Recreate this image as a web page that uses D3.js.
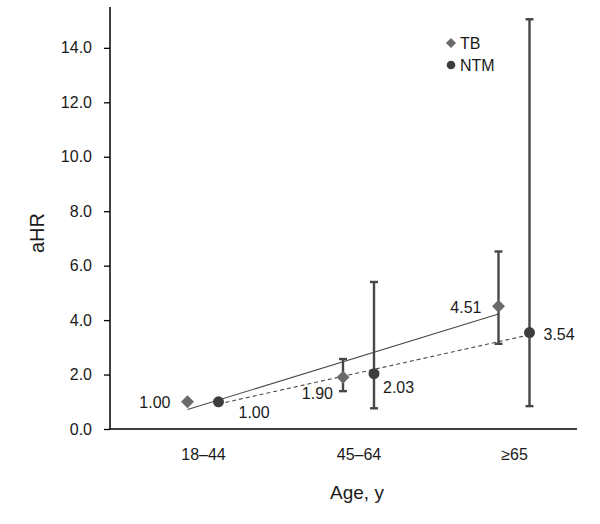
<!DOCTYPE html>
<html>
<head>
<meta charset="utf-8">
<script src="https://cdn.jsdelivr.net/npm/d3@7"></script>
<style>
  html, body { margin: 0; padding: 0; background: #fff; }
  svg { display: block; font-family: "Liberation Sans", Arial, sans-serif; }
</style>
</head>
<body>
<svg id="chart" width="600" height="524"></svg>
<script>
// ---- data ----
const categories = ["18–44", "45–64", "≥65"];
const tbValues   = [1.00, 1.90, 4.51];
const tbLower    = [null, 1.39, 3.13];
const tbUpper    = [null, 2.57, 6.52];
const ntmValues  = [1.00, 2.03, 3.54];
const ntmLower   = [null, 0.76, 0.84];
const ntmUpper   = [null, 5.40, 15.05];
const yTicks     = [0, 2, 4, 6, 8, 10, 12, 14];
const seriesNames = ["TB", "NTM"];

// ---- layout ----
const svg = d3.select("#chart");
const axisLeft = 110, axisRight = 577, axisBottom = 429, axisTop = 7;

const y = d3.scaleLinear().domain([0, 15.5]).range([axisBottom, axisTop]);
const x = d3.scalePoint().domain(categories).range([203, 514]);
const offset = 15.5;

const series = [
  { name: "TB", values: tbValues, lo: tbLower, hi: tbUpper, dx: -offset, shape: "diamond",
    fill: "#6b6b6b", dash: null,
    labels: [{dx: -17, dy: 6, anchor: "end"}, {dx: -10, dy: 22, anchor: "end"}, {dx: -17, dy: 7, anchor: "end"}] },
  { name: "NTM", values: ntmValues, lo: ntmLower, hi: ntmUpper, dx: offset, shape: "circle",
    fill: "#3d3d3d", dash: "4,3",
    labels: [{dx: 20, dy: 16, anchor: "start"}, {dx: 9, dy: 19, anchor: "start"}, {dx: 14, dy: 7, anchor: "start"}] }
];

// ---- y axis ----
const yAxis = d3.axisLeft(y).tickValues(yTicks).tickFormat(d3.format(".1f")).tickSize(6).tickPadding(12);
const yG = svg.append("g").attr("transform", `translate(${axisLeft},0)`).call(yAxis);
yG.select(".domain").remove();
yG.selectAll(".tick line").attr("stroke", "#000").attr("stroke-width", 1.3);
yG.selectAll(".tick text").attr("font-size", 16).attr("fill", "#1a1a1a")
  .attr("font-family", "Liberation Sans, Arial, sans-serif");
svg.append("line").attr("x1", axisLeft).attr("x2", axisLeft).attr("y1", axisTop).attr("y2", axisBottom)
  .attr("stroke", "#000").attr("stroke-width", 1.5);

// ---- x axis ----
svg.append("line").attr("x1", axisLeft).attr("x2", axisRight).attr("y1", axisBottom).attr("y2", axisBottom)
  .attr("stroke", "#000").attr("stroke-width", 1.5);
const xAxis = d3.axisBottom(x).tickSize(0).tickPadding(20);
const xG = svg.append("g").attr("transform", `translate(0,${axisBottom})`).call(xAxis);
xG.select(".domain").remove();
xG.selectAll(".tick text").attr("font-size", 16).attr("fill", "#1a1a1a")
  .attr("font-family", "Liberation Sans, Arial, sans-serif");

// ---- axis titles ----
svg.append("text").attr("transform", `translate(44,233) rotate(-90)`).attr("text-anchor", "middle")
  .attr("font-size", 20).attr("fill", "#1a1a1a").text("aHR");
svg.append("text").attr("x", 357).attr("y", 499).attr("text-anchor", "middle")
  .attr("font-size", 19).attr("fill", "#1a1a1a").text("Age, y");

// ---- trend lines (least squares on category index) ----
function trend(values) {
  const n = values.length;
  const xs = values.map((_, i) => i);
  const mx = d3.mean(xs), my = d3.mean(values);
  const b = d3.sum(xs.map((xi, i) => (xi - mx) * (values[i] - my))) / d3.sum(xs.map(xi => (xi - mx) ** 2));
  const a = my - b * mx;
  return [0, n - 1].map(i => ({ i, v: a + b * i }));
}
series.forEach(s => {
  const pts = trend(s.values);
  svg.append("path")
    .datum(pts)
    .attr("d", d3.line().x(p => x(categories[p.i]) + s.dx).y(p => y(p.v)))
    .attr("fill", "none").attr("stroke", "#4a4a4a").attr("stroke-width", 1.1)
    .attr("stroke-dasharray", s.dash);
});

// ---- error bars ----
series.forEach(s => {
  const g = svg.append("g");
  categories.forEach((c, i) => {
    if (s.lo[i] == null) return;
    const cx = x(c) + s.dx;
    g.append("line").attr("x1", cx).attr("x2", cx).attr("y1", y(s.lo[i])).attr("y2", y(s.hi[i]))
      .attr("stroke", "#474747").attr("stroke-width", 2.4);
    [s.lo[i], s.hi[i]].forEach(v => {
      g.append("line").attr("x1", cx - 4).attr("x2", cx + 4).attr("y1", y(v)).attr("y2", y(v))
        .attr("stroke", "#474747").attr("stroke-width", 2.4);
    });
  });
});

// ---- markers ----
function drawMarker(g, s, cx, cy, scale) {
  if (s.shape === "diamond") {
    const h = 6.5 * scale;
    g.append("path").attr("d", `M${cx},${cy - h}L${cx + h},${cy}L${cx},${cy + h}L${cx - h},${cy}Z`)
      .attr("fill", s.fill);
  } else {
    g.append("circle").attr("cx", cx).attr("cy", cy).attr("r", 5.5 * scale).attr("fill", s.fill);
  }
}
series.forEach(s => {
  const g = svg.append("g");
  s.values.forEach((v, i) => drawMarker(g, s, x(categories[i]) + s.dx, y(v), 1));
});

// ---- data labels ----
series.forEach(s => {
  s.values.forEach((v, i) => {
    const L = s.labels[i];
    svg.append("text").attr("x", x(categories[i]) + s.dx + L.dx).attr("y", y(v) + L.dy)
      .attr("text-anchor", L.anchor).attr("font-size", 16).attr("fill", "#1a1a1a")
      .text(d3.format(".2f")(v));
  });
});

// ---- legend ----
const legend = svg.append("g");
seriesNames.forEach((name, i) => {
  const s = series.find(d => d.name === name);
  const ly = 43 + i * 22;
  drawMarker(legend, s, 451, ly, 0.78);
  legend.append("text").attr("x", 460).attr("y", ly + 6).attr("font-size", 16).attr("fill", "#1a1a1a").text(name);
});
</script>
</body>
</html>
